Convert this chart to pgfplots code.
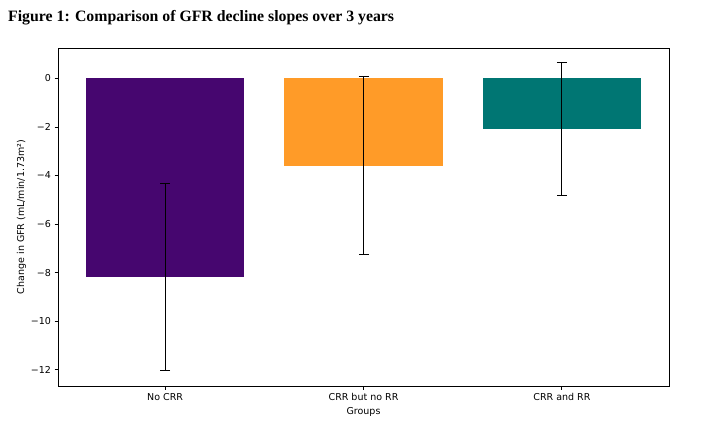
\documentclass[border=0pt]{standalone}
\usepackage{fontspec}
\setmainfont{DejaVu Sans}
\newfontfamily\titlefont{Liberation Serif}
\usepackage{pgfplots}
\pgfplotsset{compat=1.18}
\definecolor{cpurple}{HTML}{46066F}
\definecolor{corange}{HTML}{FF9B28}
\definecolor{cteal}{HTML}{007673}
\begin{document}
\begin{tikzpicture}
\useasboundingbox (0pt,0pt) rectangle (724pt,432pt);
\node[anchor=base west, inner sep=0, font=\titlefont\bfseries\fontsize{15.8}{18}\selectfont] at (8pt,410pt) {Figure 1: Comparison of GFR decline slopes over 3 years};
\begin{axis}[
  at={(58pt,46pt)}, anchor=south west, scale only axis,
  width=611pt, height=338pt,
  xmin=-0.54, xmax=2.54, ymin=-12.67, ymax=1.25,
  xtick={0,1,2}, xticklabels={No CRR, CRR but no RR, CRR and RR},
  ytick={-12,-10,-8,-6,-4,-2,0},
  yticklabels={−12,−10,−8,−6,−4,−2,0},
  tick align=outside, tick pos=left, major tick length=3.5pt,
  tick style={black, line width=0.8pt},
  axis line style={line width=0.8pt},
  ticklabel style={font=\fontsize{9.5}{11}\selectfont},
  label style={font=\fontsize{9.5}{11}\selectfont},
  ylabel style={yshift=-2pt},
  xlabel={Groups}, ylabel={Change in GFR (mL/min/1.73m²)},
  ybar, bar width=0.8,
  error bars/y dir=both, error bars/y explicit,
  error bars/error mark=|,
  error bars/error mark options={black, mark size=5pt, line width=1pt},
  error bars/error bar style={black, line width=1pt},
]
\addplot[fill=cpurple, draw=none, bar shift=0pt] coordinates {(0,-8.2) +- (0,3.85)};
\addplot[fill=corange, draw=none, bar shift=0pt] coordinates {(1,-3.6) +- (0,3.67)};
\addplot[fill=cteal, draw=none, bar shift=0pt] coordinates {(2,-2.1) +- (0,2.74)};
\end{axis}
\end{tikzpicture}
\end{document}
